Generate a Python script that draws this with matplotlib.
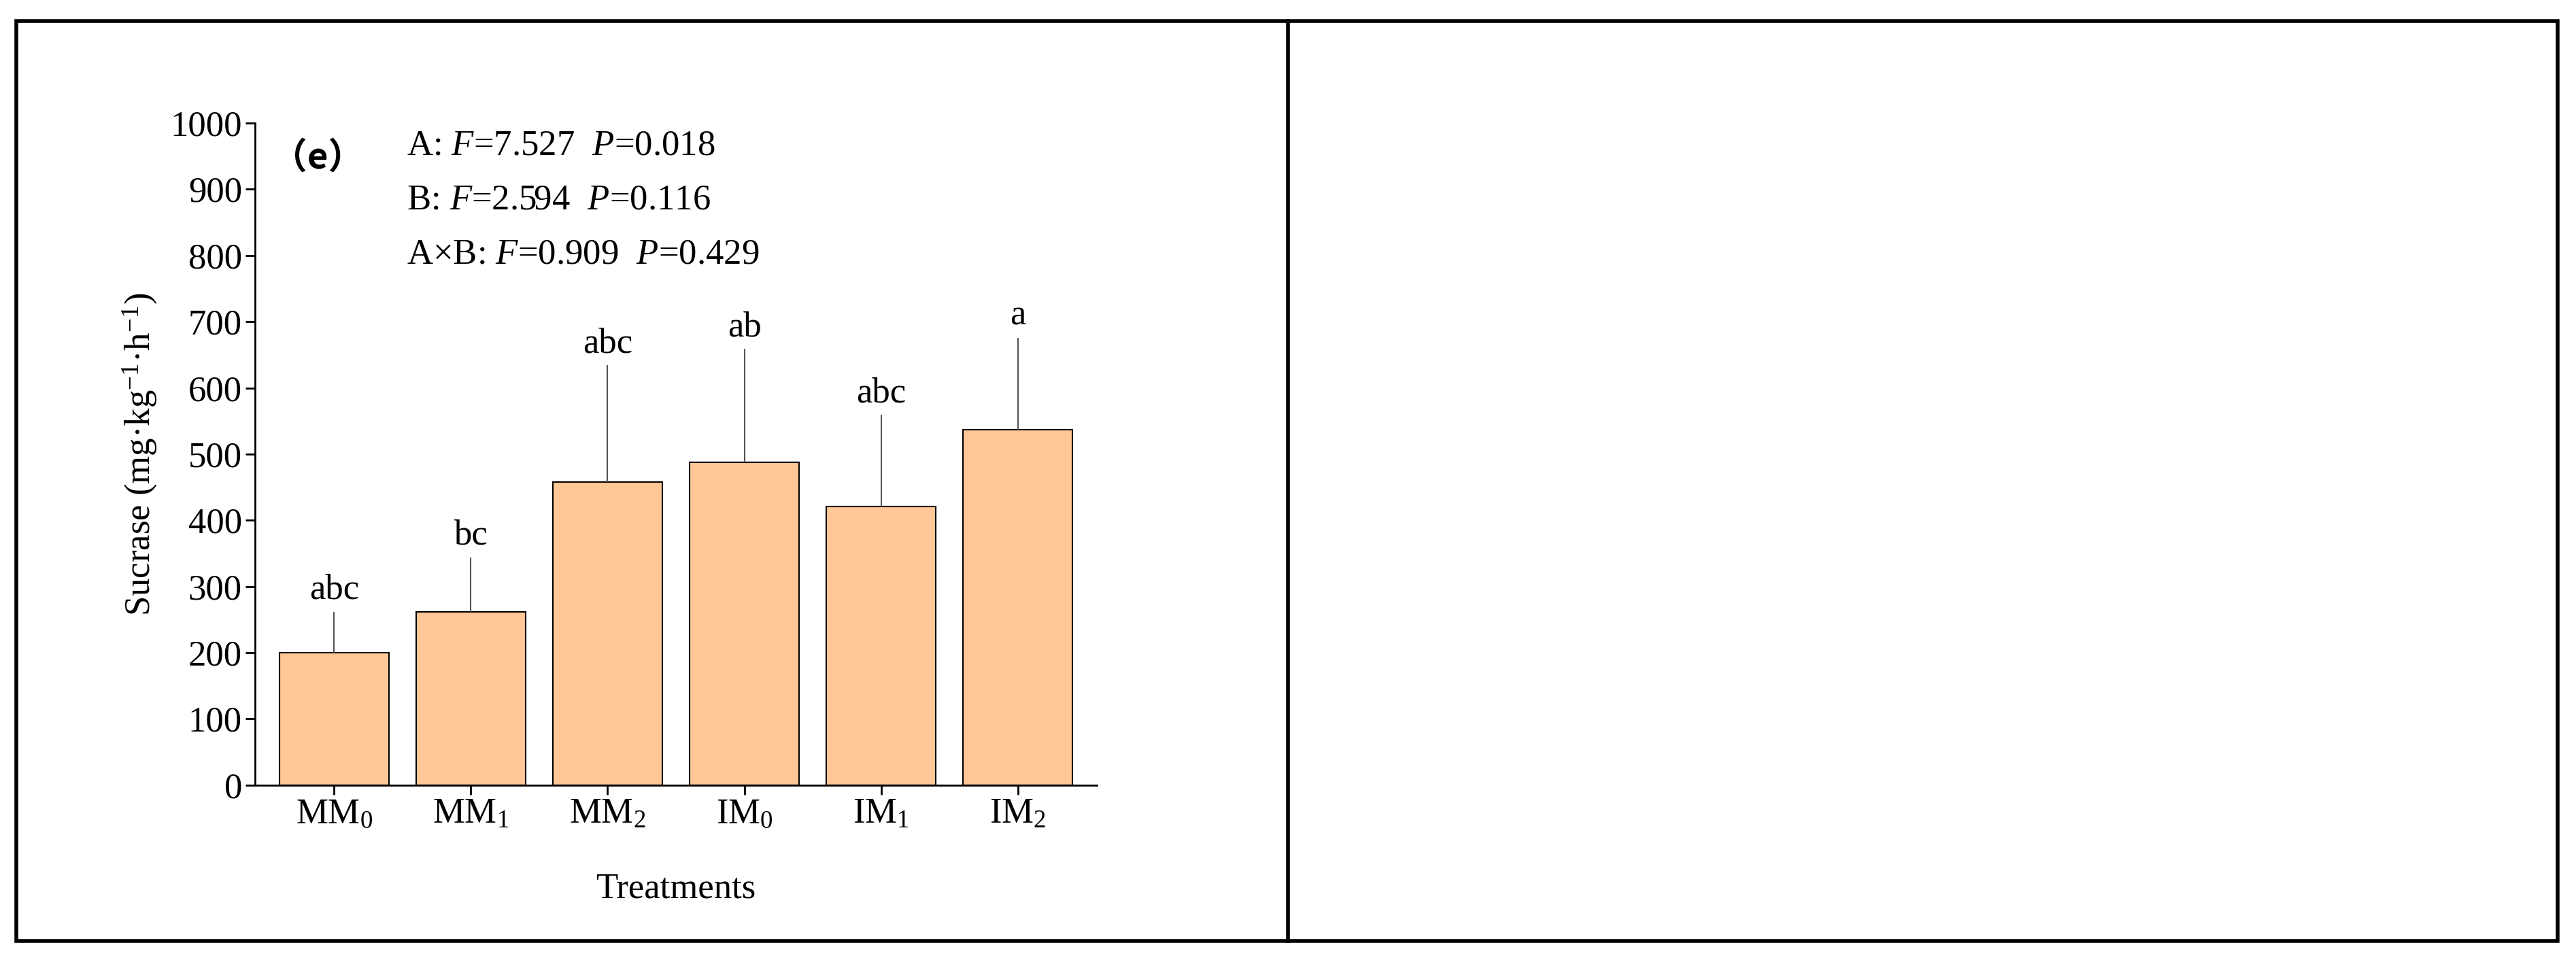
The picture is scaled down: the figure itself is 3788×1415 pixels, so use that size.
import matplotlib.pyplot as plt
from matplotlib.patches import Rectangle
from matplotlib.lines import Line2D

plt.rcParams['font.family'] = ['Liberation Serif', 'Noto Sans CJK SC', 'DejaVu Serif']
plt.rcParams['mathtext.fontset'] = 'custom'
plt.rcParams['mathtext.rm'] = 'Liberation Serif'
plt.rcParams['mathtext.it'] = 'Liberation Serif:italic'
plt.rcParams['mathtext.bf'] = 'Liberation Serif:bold'

treatments = ['MM$_0$', 'MM$_1$', 'MM$_2$', 'IM$_0$', 'IM$_1$', 'IM$_2$']
sucrase = [200, 262, 458, 488, 421, 537]
errors = [62, 82, 176, 171, 138, 139]
letters = ['abc', 'bc', 'abc', 'ab', 'abc', 'a']
stats = ['A: $\\it{F}$=7.527  $\\it{P}$=0.018',
         'B: $\\it{F}$=2.594  $\\it{P}$=0.116',
         'A×B: $\\it{F}$=0.909  $\\it{P}$=0.429']

fig = plt.figure(figsize=(37.88, 14.15), dpi=100)
ax = fig.add_axes([0.0989, 0.184, 0.327, 0.688])

x = list(range(len(treatments)))
ax.bar(x, sucrase, width=0.8, color='#FFC896', edgecolor='black', linewidth=1.5,
       yerr=[[0] * len(errors), errors],
       error_kw=dict(ecolor='#555555', elinewidth=1.5, capsize=0))
for i, (v, e, l) in enumerate(zip(sucrase, errors, letters)):
    ax.text(i, v + e + 8, l, ha='center', va='bottom', fontsize=38)

ax.set_xlim(-0.58, 5.58)
ax.set_ylim(0, 1000)
ax.set_yticks(range(0, 1001, 100))
ax.set_xticks(x)
ax.set_xticklabels(treatments)
ax.tick_params(labelsize=38, width=2, length=10)
for s in ['top', 'right']:
    ax.spines[s].set_visible(False)
for s in ['left', 'bottom']:
    ax.spines[s].set_linewidth(2)
ax.set_xlabel('Treatments', fontsize=38, labelpad=45)
ax.set_ylabel('Sucrase (mg·kg$^{\\mathregular{-1}}$·h$^{\\mathregular{-1}}$)',
              fontsize=38, labelpad=12)

ax.text(0.02, 0.975, '（e）', transform=ax.transAxes, fontsize=38,
        fontweight='bold', va='top', ha='left',
        family=['Noto Sans CJK SC', 'Liberation Serif'])
for k, s in enumerate(stats):
    ax.text(0.18, 0.99 - k * 0.082, s, transform=ax.transAxes, fontsize=38,
            va='top', ha='left')

# panel borders
fig.add_artist(Rectangle((10 / 1568, 13 / 586), 1547 / 1568, 560 / 586,
                         transform=fig.transFigure, fill=False,
                         edgecolor='black', linewidth=4))
fig.add_artist(Line2D([784 / 1568, 784 / 1568], [13 / 586, 573 / 586],
                      transform=fig.transFigure, color='black', linewidth=4))

fig.savefig('out.png', dpi=100)
